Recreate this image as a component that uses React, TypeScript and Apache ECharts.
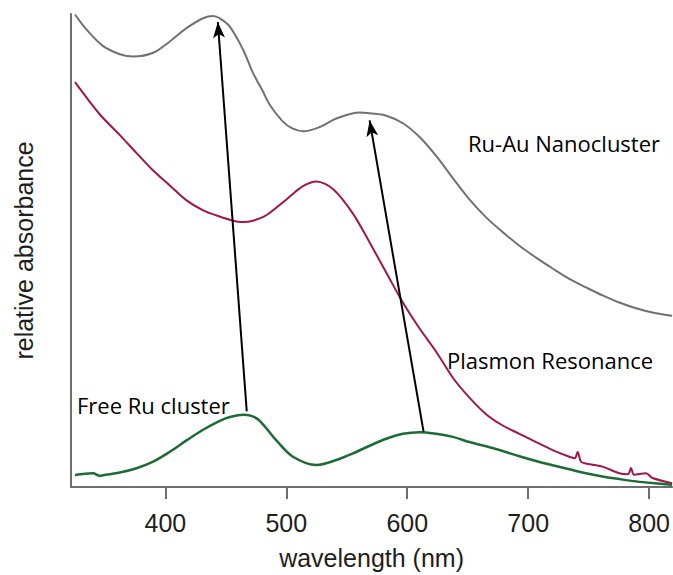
import React, { useEffect, useRef } from "react";
import * as echarts from "echarts";

// wavelength (nm) / relative absorbance pairs
const ruAuWavelength = [325.3, 334.9, 348.6, 362.4, 373.4, 389.9, 403.7, 417.5, 431.2, 439.5, 445.0, 453.3, 464.2, 472.5, 480.0, 486.3, 497.0, 505.0, 513.8, 527.6, 541.4, 560.6, 568.9, 582.7, 596.4, 610.2, 623.9, 637.7, 651.4, 665.2, 678.9, 692.7, 706.5, 720.2, 734.0, 747.8, 761.5, 775.3, 789.1, 802.8, 819];
const ruAuAbsorbance = [99.9, 96.7, 93.2, 91.5, 91.0, 91.8, 94.2, 97.0, 99.1, 99.6, 99.1, 97.35, 92.5, 87.5, 84.0, 80.8, 77.3, 75.8, 75.2, 76.1, 77.9, 79.2, 79.0, 78.5, 76.9, 74.0, 70.0, 65.3, 60.8, 57.0, 53.9, 51.0, 48.5, 46.2, 44.0, 42.2, 40.5, 39.0, 37.8, 36.9, 36.2];

const plasmonWavelength = [325.3, 345.9, 362.4, 376.2, 389.9, 403.7, 417.5, 431.2, 442.5, 453.3, 464.0, 472.5, 483.8, 500.1, 513.8, 524.9, 538.6, 555.1, 568.9, 582.7, 596.4, 610.2, 623.9, 637.7, 651.4, 665.2, 678.9, 692.7, 706.5, 720.2, 734.0, 738.5, 740.9, 743.5, 747.0, 761.5, 775.3, 782.5, 785.0, 787.5, 797.4, 802.8, 819];
const plasmonAbsorbance = [85.6, 78.75, 74.4, 70.6, 66.9, 63.75, 60.6, 58.5, 57.4, 56.5, 56.0, 56.3, 57.5, 60.8, 63.6, 64.6, 63.0, 57.8, 51.7, 45.3, 39.0, 33.5, 28.6, 23.1, 18.9, 15.4, 13.0, 11.25, 9.5, 7.8, 6.4, 6.1, 7.4, 5.4, 5.0, 4.3, 2.9, 2.7, 4.0, 2.6, 2.9, 1.9, 0.8];

const freeRuWavelength = [325.3, 340.1, 345.9, 348.6, 362.4, 376.2, 389.9, 403.7, 417.5, 431.2, 445.0, 453.4, 464.2, 470.5, 478.0, 491.8, 505.5, 524.9, 541.4, 555.1, 573.0, 582.7, 596.4, 610.2, 623.9, 637.7, 651.4, 665.2, 678.9, 692.7, 706.5, 720.2, 734.0, 747.8, 761.5, 775.3, 789.1, 802.8, 819];
const freeRuAbsorbance = [2.56, 2.9, 2.35, 2.5, 3.06, 3.96, 5.35, 7.44, 9.85, 12.1, 14.0, 14.8, 15.3, 15.1, 14.0, 9.85, 6.4, 4.65, 5.7, 7.1, 9.2, 10.2, 11.25, 11.6, 11.25, 10.6, 9.5, 8.6, 7.6, 6.5, 5.5, 4.6, 3.75, 2.9, 2.2, 1.67, 1.19, 0.83, 0.48];

// arrows: [from wavelength, from absorbance, to wavelength, to absorbance]
const arrowFreeToNano1 = [467.3, 16.0, 443.4, 98.3];
const arrowFreeToNano2 = [613.5, 11.7, 568.9, 77.5];

const xTickValues = [400, 500, 600, 700, 800];
const xMin = 322;
const xMax = 819;

const zip = (xs: number[], ys: number[]) => xs.map((x, i) => [x, ys[i]]);

export default function App() {
  const ref = useRef<HTMLDivElement>(null);
  useEffect(() => {
    if (!ref.current) return;
    const chart = echarts.init(ref.current, undefined, { renderer: "svg" });
    const axisColor = "#6e6e6e";
    const annFont = { fontFamily: "Open Sans", fontSize: 22, fill: "#000000" };
    chart.setOption({
      animation: false,
      backgroundColor: "#ffffff",
      grid: { left: 71, right: 0, top: 14, bottom: 81, containLabel: false },
      xAxis: {
        type: "value",
        min: xMin,
        max: xMax,
        name: "wavelength (nm)",
        nameLocation: "middle",
        nameGap: 58,
        nameTextStyle: { fontFamily: "Liberation Sans", fontSize: 25, color: "#1e1e1e" },
        axisLine: { show: true, onZero: false, lineStyle: { color: axisColor, width: 2 } },
        axisTick: { show: true, inside: false, length: 12, customValues: xTickValues, lineStyle: { color: axisColor, width: 2 } },
        axisLabel: { show: true, customValues: xTickValues, margin: 23, fontFamily: "Liberation Sans", fontSize: 25, color: "#1e1e1e" },
        splitLine: { show: false },
      },
      yAxis: {
        type: "value",
        min: 0,
        max: 100,
        name: "relative absorbance",
        nameLocation: "middle",
        nameGap: 35,
        nameTextStyle: { fontFamily: "Liberation Sans", fontSize: 25, color: "#1e1e1e" },
        axisLine: { show: true, lineStyle: { color: axisColor, width: 2 } },
        axisTick: { show: false },
        axisLabel: { show: false },
        splitLine: { show: false },
      },
      series: [
        {
          name: "Ru-Au Nanocluster",
          type: "line",
          data: zip(ruAuWavelength, ruAuAbsorbance),
          showSymbol: false,
          smooth: 0.35,
          lineStyle: { color: "#717171", width: 2 },
        },
        {
          name: "Plasmon Resonance",
          type: "line",
          data: zip(plasmonWavelength, plasmonAbsorbance),
          showSymbol: false,
          smooth: 0.3,
          lineStyle: { color: "#a0174b", width: 2 },
        },
        {
          name: "Free Ru cluster",
          type: "line",
          data: zip(freeRuWavelength, freeRuAbsorbance),
          showSymbol: false,
          smooth: 0.35,
          lineStyle: { color: "#1d6b36", width: 2.5 },
          markLine: {
            silent: true,
            symbol: ["none", "arrow"],
            symbolSize: [9, 16],
            label: { show: false },
            lineStyle: { color: "#000000", width: 2, type: "solid" },
            data: [
              [
                { coord: [arrowFreeToNano1[0], arrowFreeToNano1[1]] },
                { coord: [arrowFreeToNano1[2], arrowFreeToNano1[3]] },
              ],
              [
                { coord: [arrowFreeToNano2[0], arrowFreeToNano2[1]] },
                { coord: [arrowFreeToNano2[2], arrowFreeToNano2[3]] },
              ],
            ],
          },
        },
      ],
      graphic: [
        { type: "text", left: 468, top: 132, style: { text: "Ru-Au Nanocluster", ...annFont } },
        { type: "text", left: 447, top: 349, style: { text: "Plasmon Resonance", ...annFont } },
        { type: "text", left: 77, top: 394, style: { text: "Free Ru cluster", ...annFont } },
      ],
    });
    return () => chart.dispose();
  }, []);
  return (
    <div
      ref={ref}
      style={{ position: "absolute", left: 0, top: 0, width: 673, height: 575 }}
    />
  );
}
